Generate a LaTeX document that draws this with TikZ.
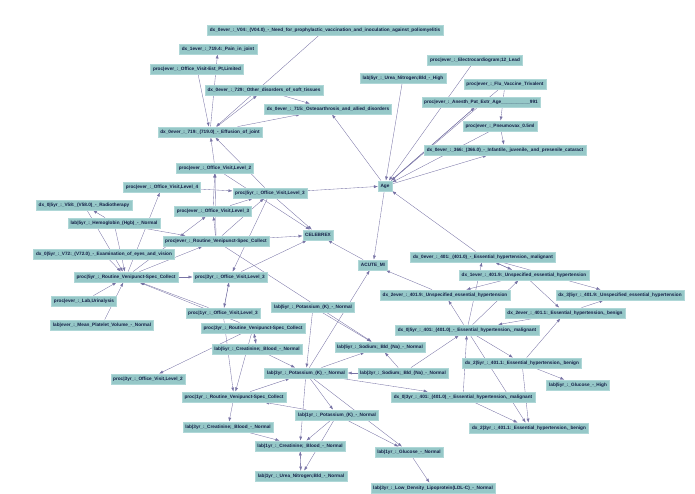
\documentclass[tikz,border=0pt]{standalone}
\usepackage{fontspec}
\setmainfont{Liberation Sans}
\usetikzlibrary{arrows.meta}
\pgfdeclarelayer{bg}
\pgfsetlayers{bg,main}
\tikzset{
  nd/.style={fill={rgb,255:red,150;green,200;blue,200}, draw={rgb,255:red,175;green,215;blue,215}, line width=0.3pt,
    text={rgb,255:red,20;green,30;blue,70}, font=\fontsize{4.7}{5}\selectfont\bfseries, inner xsep=2.5pt, minimum height=10.5pt, inner ysep=1pt},
  ed/.style={draw={rgb,255:red,120;green,115;blue,165}, line width=0.35pt, -{Latex[length=4pt,width=3pt]}}
}
\newcommand{\N}[4]{\node[nd] (#1) at (#2pt,-#3pt) {#4};}
\begin{document}
\begin{tikzpicture}[x=1pt,y=1pt]
\useasboundingbox (0,0) rectangle (695,-494);
\N{vacc}{325}{30}{dx\_0ever\_:\_V04:\_(V04.0)\_-\_Need\_for\_prophylactic\_vaccination\_and\_inoculation\_against\_poliomyelitis}
\N{pain}{218}{49}{dx\_1ever\_:\_719.4:\_Pain\_in\_joint}
\N{ovest}{197}{69}{proc|ever\_:\_Office\_Visit-Est\_Pt,Limited}
\N{soft}{264}{90}{dx\_0ever\_:\_729:\_Other\_disorders\_of\_soft\_tissues}
\N{osteo}{328}{109}{dx\_0ever\_:\_715:\_Osteoarthrosis\_and\_allied\_disorders}
\N{eff}{210}{132}{dx\_0ever\_:\_719:\_(719.0)\_-\_Effusion\_of\_joint}
\N{ecg}{475}{60}{proc|ever\_:\_Electrocardiogram;12\_Lead}
\N{urea5}{403}{78}{lab|5yr\_:\_Urea\_Nitrogen;Bld\_-\_High}
\N{flu}{505}{84}{proc|ever\_:\_Flu\_Vaccine\_Trivalent}
\N{anes}{481}{102}{proc|ever\_:\_Anesth\_Pat\_Extr\_Age\_\_\_\_\_\_\_\_\_\_\_991}
\N{pneu}{500}{126}{proc|ever\_:\_Pneumovax\_0.5ml}
\N{cat}{505}{150}{dx\_0ever\_:\_366:\_(366.0)\_-\_Infantile,\_juvenile,\_and\_presenile\_cataract}
\N{ovtwoE}{215}{168}{proc|ever\_:\_Office\_Visit,Level\_2}
\N{ovfourE}{162}{187}{proc|ever\_:\_Office\_Visit,Level\_4}
\N{ovthreeF}{270}{193}{proc|5yr\_:\_Office\_Visit,Level\_3}
\N{radio}{84}{205}{dx\_0|5yr\_:\_V58:\_(V58.0)\_-\_Radiotherapy}
\N{ovthreeE}{213}{211}{proc|ever\_:\_Office\_Visit,Level\_3}
\N{hgb}{114}{223}{lab|5yr\_:\_Hemoglobin\_(Hgb)\_-\_Normal}
\N{venE}{216}{241}{proc|ever\_:\_Routine\_Venipunct-Spec\_Collect}
\N{cel}{318}{235}{CELEBREX}
\N{age}{385}{186}{Age}
\N{ami}{373}{265}{ACUTE\_MI}
\N{eyes}{104}{254}{dx\_0|5yr\_:\_V72:\_(V72.0)\_-\_Examination\_of\_eyes\_and\_vision}
\N{venF}{126}{277}{proc|5yr\_:\_Routine\_Venipunct-Spec\_Collect}
\N{ovthreeT}{230}{277}{proc|3yr\_:\_Office\_Visit,Level\_3}
\N{labur}{84}{301}{proc|ever\_:\_Lab,Urinalysis}
\N{mpv}{102}{325}{lab|ever\_:\_Mean\_Platelet\_Volume\_-\_Normal}
\N{ovthreeO}{223}{313}{proc|1yr\_:\_Office\_Visit,Level\_3}
\N{potF}{313}{307}{lab|5yr\_:\_Potassium\_(K)\_-\_Normal}
\N{venT}{253}{328}{proc|3yr\_:\_Routine\_Venipunct-Spec\_Collect}
\N{creF}{257}{349}{lab|5yr\_:\_Creatinine;\_Blood\_-\_Normal}
\N{ovtwoT}{148}{379}{proc|3yr\_:\_Office\_Visit,Level\_2}
\N{potT}{306}{373}{lab|3yr\_:\_Potassium\_(K)\_-\_Normal}
\N{sodF}{380}{347}{lab|5yr\_:\_Sodium;\_Bld\_(Na)\_-\_Normal}
\N{sodT}{403}{373}{lab|3yr\_:\_Sodium;\_Bld\_(Na)\_-\_Normal}
\N{venO}{234}{397}{proc|1yr\_:\_Routine\_Venipunct-Spec\_Collect}
\N{potO}{337}{415}{lab|1yr\_:\_Potassium\_(K)\_-\_Normal}
\N{creT}{228}{427}{lab|3yr\_:\_Creatinine;\_Blood\_-\_Normal}
\N{creO}{300}{446}{lab|1yr\_:\_Creatinine;\_Blood\_-\_Normal}
\N{ureaO}{301}{476}{lab|1yr\_:\_Urea\_Nitrogen;Bld\_-\_Normal}
\N{gluO}{409}{452}{lab|1yr\_:\_Glucose\_-\_Normal}
\N{ldl}{433}{488}{lab|3yr\_:\_Low\_Density\_Lipoprotein(LDL-C)\_-\_Normal}
\N{hA}{483}{257}{dx\_0ever\_:\_401:\_(401.0)\_-\_Essential\_hypertension,\_malignant}
\N{hB}{524}{275}{dx\_1ever\_:\_401.9:\_Unspecified\_essential\_hypertension}
\N{hC}{445}{295}{dx\_2ever\_:\_401.9:\_Unspecified\_essential\_hypertension}
\N{hD}{620}{295}{dx\_3|5yr\_:\_401.9:\_Unspecified\_essential\_hypertension}
\N{hE}{565}{313}{dx\_2ever\_:\_401.1:\_Essential\_hypertension,\_benign}
\N{hF}{467}{330}{dx\_0|5yr\_:\_401:\_(401.0)\_-\_Essential\_hypertension,\_malignant}
\N{hG}{522}{363}{dx\_2|5yr\_:\_401.1:\_Essential\_hypertension,\_benign}
\N{gluF}{578}{385}{lab|5yr\_:\_Glucose\_-\_High}
\N{hH}{463}{397}{dx\_0|3yr\_:\_401:\_(401.0)\_-\_Essential\_hypertension,\_malignant}
\N{hI}{529}{428}{dx\_2|3yr\_:\_401.1:\_Essential\_hypertension,\_benign}
\begin{pgfonlayer}{bg}
\foreach \a/\b in {eff/pain,ovest/eff,eff/soft,soft/osteo,eff/osteo,vacc/eff,ovtwoE/eff,ovthreeF/eff,
  age/osteo,urea5/age,ecg/age,age/anes,flu/age,pneu/age,age/cat,flu/pneu,pneu/cat,anes/age,
  ovthreeF/age,hA/age,age/ami,hC/ami,potT/ami,ovtwoE/cel,ovthreeF/cel,venE/cel,ovthreeT/cel,ami/cel,
  ovfourE/ovthreeF,ovthreeE/ovthreeF,venE/ovthreeF,venE/ovthreeE,venE/ovtwoE,ovthreeE/ovtwoE,
  hgb/radio,hgb/venE,venF/ovfourE,eyes/venF,radio/venF,hgb/venF,venF/venE,venF/ovthreeE,venF/ovthreeT,
  labur/venF,mpv/venF,ovthreeF/ovthreeT,ovthreeO/ovthreeT,ovthreeT/ovthreeO,ovthreeO/venF,venT/venF,
  venE/sodF,potF/potT,venT/ovtwoT,creF/venT,venT/creF,venT/venO,creF/potT,ovthreeO/venO,venO/potT,
  potT/potO,potT/creO,potT/sodF,sodT/potT,potT/hH,potO/venO,creT/creO,venO/creT,potO/creO,creO/ureaO,
  ureaO/creO,potO/ureaO,potT/gluO,potO/gluO,gluO/ldl,sodT/sodF,sodT/hF,potF/sodF,
  hA/hB,hB/hA,hA/hD,hB/hC,hB/hE,hE/hD,hF/hB,hF/hC,hF/hA,hF/hG,hG/hE,hG/gluF,hF/hI,hH/hF,hH/hI,hG/hI,hE/hF}
  {\draw[ed] (\a) -- (\b);}
\end{pgfonlayer}
\end{tikzpicture}
\end{document}
